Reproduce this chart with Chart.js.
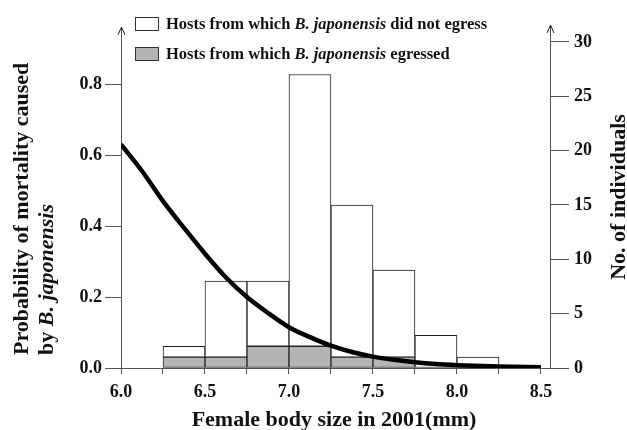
<!DOCTYPE html>
<html><head><meta charset="utf-8">
<script src="https://cdn.jsdelivr.net/npm/chart.js@4/dist/chart.umd.min.js"></script>
<style>html,body{margin:0;padding:0;background:#fff}#wrap{width:627px;height:430px;position:relative}</style>
</head><body><div id="wrap"><canvas id="c" width="627" height="430"></canvas></div>
<script>
// ---- data ----
const binCenters = [6.375, 6.625, 6.875, 7.125, 7.375, 7.625, 7.875, 8.125];
const egressed    = [1, 1, 2, 2, 1, 1, 0, 0];
const notEgressed = [1, 7, 6, 25, 14, 8, 3, 1];
const curveX = [6.0, 6.125, 6.25, 6.375, 6.5, 6.625, 6.75, 6.875, 7.0, 7.125, 7.25, 7.375, 7.5, 7.625, 7.75, 7.875, 8.0, 8.25, 8.5];
const curveP = [0.63, 0.555, 0.47, 0.395, 0.322, 0.255, 0.2, 0.155, 0.115, 0.087, 0.063, 0.045, 0.032, 0.023, 0.016, 0.011, 0.008, 0.004, 0.002];
const xTickValues = [6.0, 6.25, 6.5, 6.75, 7.0, 7.25, 7.5, 7.75, 8.0, 8.25, 8.5];
const xTickLabels = ['6.0', '', '6.5', '', '7.0', '', '7.5', '', '8.0', '', '8.5'];
const leftTicks = [0, 0.2, 0.4, 0.6, 0.8];
const leftTickLabels = ['0.0', '0.2', '0.4', '0.6', '0.8'];
const rightTicks = [0, 5, 10, 15, 20, 25, 30];
const legendLabels = ['Hosts from which B. japonensis did not egress', 'Hosts from which B. japonensis egressed'];

const SERIF = '"Liberation Serif", "Times New Roman", serif';
const AX = '#555';
const tickFont = {family: SERIF, size: 18, weight: 'bold'};

const overlay = {
  id: 'overlay',
  afterDraw(chart) {
    const ctx = chart.ctx, a = chart.chartArea;
    ctx.save();
    // arrows
    ctx.strokeStyle = '#222'; ctx.lineWidth = 1;
    [[a.left, a.top], [a.right, a.top - 2]].forEach(([x, y]) => {
      ctx.beginPath();
      ctx.moveTo(x + 0.5, a.top); ctx.lineTo(x + 0.5, y);
      ctx.moveTo(x - 3, y + 7); ctx.lineTo(x + 0.5, y - 1); ctx.lineTo(x + 4, y + 7);
      ctx.stroke();
    });
    ctx.fillStyle = '#111';
    const bold = s => 'bold ' + s + 'px ' + SERIF;
    const boldIt = s => 'italic bold ' + s + 'px ' + SERIF;
    function mixed(parts, x, y, size) {
      let cx = x;
      parts.forEach(([t, it]) => {
        ctx.font = it ? boldIt(size) : bold(size);
        ctx.fillText(t, cx, y);
        cx += ctx.measureText(t).width;
      });
    }
    // legend
    ctx.textBaseline = 'middle'; ctx.textAlign = 'left';
    const rows = [[24, '#fff', [['Hosts from which ', false], ['B. japonensis', true], [' did not egress', false]]],
                  [54, '#b4b4b4', [['Hosts from which ', false], ['B. japonensis', true], [' egressed', false]]]];
    rows.forEach(([y, fill, parts]) => {
      ctx.fillStyle = fill; ctx.fillRect(135.5, y - 6.5, 23, 13);
      ctx.strokeStyle = '#333'; ctx.strokeRect(135.5, y - 6.5, 23, 13);
      ctx.fillStyle = '#111';
      mixed(parts, 166, y + 1, 16.5);
    });
    // left title
    ctx.textBaseline = 'alphabetic';
    ctx.save(); ctx.translate(28, 355); ctx.rotate(-Math.PI / 2);
    mixed([['Probability of mortality caused', false]], 0, 0, 22);
    ctx.restore();
    ctx.save(); ctx.translate(53, 355); ctx.rotate(-Math.PI / 2);
    mixed([['by ', false], ['B. japonensis', true]], 0, 0, 22);
    ctx.restore();
    // right title
    ctx.save(); ctx.translate(625, 197); ctx.rotate(-Math.PI / 2);
    ctx.textAlign = 'center'; ctx.font = bold(22);
    ctx.fillText('No. of individuals', 0, 0);
    ctx.restore();
    // x title
    ctx.textAlign = 'center'; ctx.font = bold(22);
    ctx.fillText('Female body size in 2001(mm)', 334, 426);
    ctx.restore();
  }
};

new Chart(document.getElementById('c'), {
  type: 'bar',
  data: {
    datasets: [
      {type: 'line', label: 'Probability of mortality', data: curveX.map((x, i) => ({x, y: curveP[i]})),
       xAxisID: 'x', yAxisID: 'yL', borderColor: '#000', borderWidth: 4.5, pointRadius: 0,
       cubicInterpolationMode: 'monotone', fill: false, order: 0},
      {type: 'bar', label: legendLabels[1], data: binCenters.map((x, i) => ({x, y: egressed[i]})),
       xAxisID: 'x', yAxisID: 'yR', backgroundColor: '#b4b4b4', borderColor: '#222', borderWidth: 1,
       borderSkipped: false, barPercentage: 1, categoryPercentage: 1, stack: 's', order: 1},
      {type: 'bar', label: legendLabels[0], data: binCenters.map((x, i) => ({x, y: notEgressed[i]})),
       xAxisID: 'x', yAxisID: 'yR', backgroundColor: '#fff', borderColor: '#222', borderWidth: 1,
       borderSkipped: false, barPercentage: 1, categoryPercentage: 1, stack: 's', order: 2}
    ]
  },
  options: {
    responsive: false, animation: false, devicePixelRatio: 1,
    layout: {padding: {top: 28, left: 0, right: 0, bottom: 0}},
    plugins: {legend: {display: false}, tooltip: {enabled: false}},
    scales: {
      x: {type: 'linear', position: 'bottom', min: 6.0, max: 8.554, stacked: true, offset: false,
          afterFit: s => { s.height = 62; },
          afterBuildTicks: s => { s.ticks = xTickValues.map(v => ({value: v})); },
          ticks: {autoSkip: false, maxRotation: 0, color: '#111', font: tickFont, padding: 8,
                  callback: (v, i) => xTickLabels[i]},
          grid: {display: true, offset: false, drawOnChartArea: false, drawTicks: true, tickLength: 6, color: AX},
          border: {display: true, color: AX}},
      yL: {type: 'linear', position: 'left', min: 0, max: 0.958,
           afterFit: s => { s.width = 121; },
           afterBuildTicks: s => { s.ticks = leftTicks.map(v => ({value: v})); },
           ticks: {color: '#111', font: tickFont, padding: 3, callback: (v, i) => leftTickLabels[i]},
           grid: {drawOnChartArea: false, drawTicks: true, tickLength: 16, color: AX},
           border: {display: true, color: AX}},
      yR: {type: 'linear', position: 'right', min: 0, max: 31.28, stacked: true,
           afterFit: s => { s.width = 77; },
           afterBuildTicks: s => { s.ticks = rightTicks.map(v => ({value: v})); },
           ticks: {color: '#111', font: tickFont, padding: 5},
           grid: {drawOnChartArea: false, drawTicks: true, tickLength: 19, color: AX},
           border: {display: true, color: AX}}
    }
  },
  plugins: [overlay]
});
</script></body></html>
